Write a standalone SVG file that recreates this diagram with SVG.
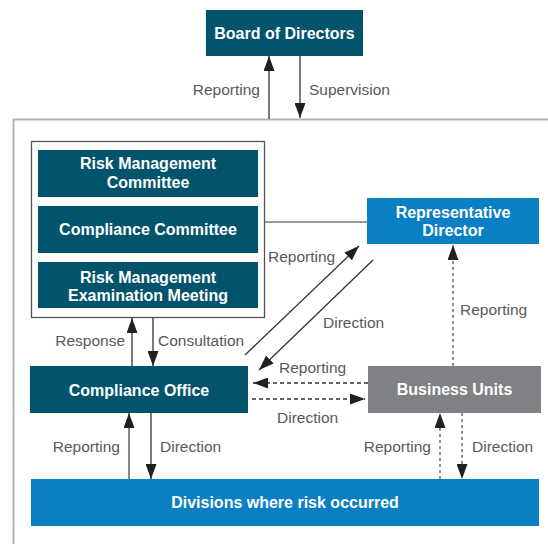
<svg xmlns="http://www.w3.org/2000/svg" width="548" height="544" viewBox="0 0 548 544">
<defs>
<marker id="ah" viewBox="0 0 15 11" refX="15" refY="5.5" markerWidth="15" markerHeight="11" orient="auto" markerUnits="userSpaceOnUse">
<path d="M0,0 L15,5.5 L0,11 z" fill="#231f20"/>
</marker>
<style>
.nt{font-family:"Liberation Sans",Arial,sans-serif;font-weight:bold;font-size:16px;fill:#fff;text-anchor:middle}
.lb{font-family:"Liberation Sans",Arial,sans-serif;font-size:15.5px;fill:#58595b}
.teal{fill:#02546c}
.blue{fill:#0a7fc4}
.gray{fill:#808184}
.solid{stroke:#333;stroke-width:1.3;fill:none}
.dash{stroke:#333;stroke-width:1.3;fill:none;stroke-dasharray:4 3}
.vdash{stroke:#555;stroke-width:1.3;fill:none;stroke-dasharray:3 3}
</style>
</defs>
<rect width="548" height="544" fill="#fff"/>
<path d="M13.5,544 V119.5 H548" fill="none" stroke="#b3b3b3" stroke-width="2"/>

<g id="board">
<rect class="teal" x="206" y="10" width="157" height="46"/>
<text class="nt" x="284.5" y="39">Board of Directors</text>
</g>

<g id="committees">
<rect x="31.5" y="141.5" width="233" height="176" fill="#fff" stroke="#555" stroke-width="1.3"/>
<g id="rmc">
<rect class="teal" x="38" y="150" width="220" height="47"/>
<text class="nt" x="148" y="169">Risk Management</text>
<text class="nt" x="148" y="188">Committee</text>
</g>
<g id="cc">
<rect class="teal" x="38" y="206" width="220" height="47"/>
<text class="nt" x="148" y="235">Compliance Committee</text>
</g>
<g id="rmem">
<rect class="teal" x="38" y="262" width="220" height="46"/>
<text class="nt" x="148" y="283">Risk Management</text>
<text class="nt" x="148" y="301">Examination Meeting</text>
</g>
</g>

<g id="repdir">
<rect class="blue" x="367" y="198" width="172" height="46"/>
<text class="nt" x="453" y="218">Representative</text>
<text class="nt" x="453" y="236">Director</text>
</g>

<g id="compliance">
<rect class="teal" x="30" y="366" width="218" height="47"/>
<text class="nt" x="139" y="396">Compliance Office</text>
</g>

<g id="business">
<rect class="gray" x="368" y="366" width="173" height="47"/>
<text class="nt" x="454.5" y="395">Business Units</text>
</g>

<g id="divisions">
<rect class="blue" x="31" y="479" width="508" height="47"/>
<text class="nt" x="285" y="508">Divisions where risk occurred</text>
</g>

<g id="connectors">
<line class="solid" x1="269" y1="119" x2="269" y2="56" marker-end="url(#ah)"/>
<line class="solid" x1="300" y1="56" x2="300" y2="118" marker-end="url(#ah)"/>
<line class="solid" x1="132" y1="366" x2="132" y2="318" marker-end="url(#ah)"/>
<line class="solid" x1="153" y1="318" x2="153" y2="366" marker-end="url(#ah)"/>
<line x1="265" y1="222" x2="367" y2="222" stroke="#777" stroke-width="1.5"/>
<line class="solid" x1="245" y1="355" x2="359" y2="246" stroke-width="1.1" marker-end="url(#ah)"/>
<line class="solid" x1="373" y1="260" x2="259" y2="370" stroke-width="1.1" marker-end="url(#ah)"/>
<line class="dash" x1="368" y1="383" x2="253" y2="383" marker-end="url(#ah)"/>
<line class="dash" x1="252" y1="399" x2="365" y2="399" marker-end="url(#ah)"/>
<line class="vdash" x1="453" y1="366" x2="453" y2="245" marker-end="url(#ah)"/>
<line x1="129" y1="479" x2="129" y2="413" stroke="#888" stroke-width="2" marker-end="url(#ah)"/>
<line class="solid" x1="151" y1="413" x2="151" y2="479" marker-end="url(#ah)"/>
<line class="vdash" x1="440" y1="479" x2="440" y2="413" marker-end="url(#ah)"/>
<line class="vdash" x1="462" y1="413" x2="462" y2="479" marker-end="url(#ah)"/>
</g>

<g id="labels">
<text class="lb" x="260" y="95" text-anchor="end">Reporting</text>
<text class="lb" x="309" y="95">Supervision</text>
<text class="lb" x="125" y="346" text-anchor="end">Response</text>
<text class="lb" x="158" y="346">Consultation</text>
<text class="lb" x="268" y="262">Reporting</text>
<text class="lb" x="323" y="328">Direction</text>
<text class="lb" x="460" y="315">Reporting</text>
<text class="lb" x="279" y="373">Reporting</text>
<text class="lb" x="277" y="423">Direction</text>
<text class="lb" x="120" y="452" text-anchor="end">Reporting</text>
<text class="lb" x="160" y="452">Direction</text>
<text class="lb" x="431" y="452" text-anchor="end">Reporting</text>
<text class="lb" x="472" y="452">Direction</text>
</g>
</svg>
